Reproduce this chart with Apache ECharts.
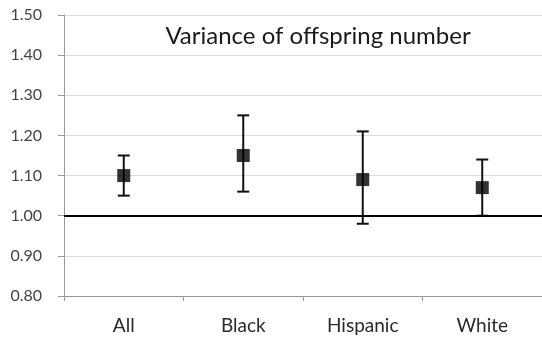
<!DOCTYPE html>
<html>
<head>
<meta charset="utf-8">
<script src="https://cdn.jsdelivr.net/npm/echarts@6/dist/echarts.min.js"></script>
<style>
  html, body { margin: 0; padding: 0; background: #fff; }
  #chart { width: 542px; height: 341px; }
</style>
</head>
<body>
<div id="chart"></div>
<script>
var groups = ['All', 'Black', 'Hispanic', 'White'];
var variance = [1.10, 1.15, 1.09, 1.07];
var lower = [1.05, 1.06, 0.98, 1.00];
var upper = [1.15, 1.25, 1.21, 1.14];
var yTicks = [0.80, 0.90, 1.00, 1.10, 1.20, 1.30, 1.40, 1.50];

var chart = echarts.init(document.getElementById('chart'));
var font = 'Lato, "Open Sans", sans-serif';

var errData = groups.map(function (g, i) { return [i, lower[i], upper[i]]; });

var option = {
  backgroundColor: '#fff',
  animation: false,
  title: {
    text: 'Variance of offspring number',
    left: 313, top: 19, textAlign: 'center',
    textStyle: { fontFamily: font, fontSize: 24, fontWeight: 'normal', color: '#1a1a1a' }
  },
  grid: { left: 64, right: 0, top: 15, bottom: 45 },
  xAxis: {
    type: 'category',
    data: groups,
    boundaryGap: true,
    axisLine: { lineStyle: { color: '#999', width: 1 } },
    axisTick: { show: true, length: 5, lineStyle: { color: '#999' } },
    axisLabel: { margin: 20, fontFamily: font, fontSize: 19, color: '#2a2a2a' }
  },
  yAxis: {
    type: 'value',
    min: yTicks[0], max: yTicks[yTicks.length - 1], interval: 0.1,
    axisLine: { show: true, lineStyle: { color: '#999' } },
    axisTick: { show: true, length: 6, lineStyle: { color: '#999' } },
    splitLine: { lineStyle: { color: '#dcdcdc' } },
    axisLabel: {
      margin: 22, fontFamily: font, fontSize: 16, color: '#444',
      formatter: function (v) { return v.toFixed(2); }
    }
  },
  series: [
    {
      type: 'custom',
      data: errData,
      z: 3,
      renderItem: function (params, api) {
        var lo = api.coord([api.value(0), api.value(1)]);
        var hi = api.coord([api.value(0), api.value(2)]);
        var half = 6;
        var st = { stroke: '#111', lineWidth: 2 };
        return {
          type: 'group',
          children: [
            { type: 'line', shape: { x1: lo[0], y1: lo[1], x2: hi[0], y2: hi[1] }, style: st },
            { type: 'line', shape: { x1: lo[0] - half, y1: lo[1], x2: lo[0] + half, y2: lo[1] }, style: st },
            { type: 'line', shape: { x1: hi[0] - half, y1: hi[1], x2: hi[0] + half, y2: hi[1] }, style: st }
          ]
        };
      },
      markLine: {
        silent: true,
        symbol: 'none',
        label: { show: false },
        lineStyle: { color: '#000', width: 2, type: 'solid' },
        data: [{ yAxis: 1.0 }]
      }
    },
    {
      type: 'scatter',
      data: variance,
      symbol: 'rect',
      symbolSize: 13,
      z: 4,
      itemStyle: { color: '#000' }
    }
  ]
};
chart.setOption(option);
</script>
</body>
</html>
